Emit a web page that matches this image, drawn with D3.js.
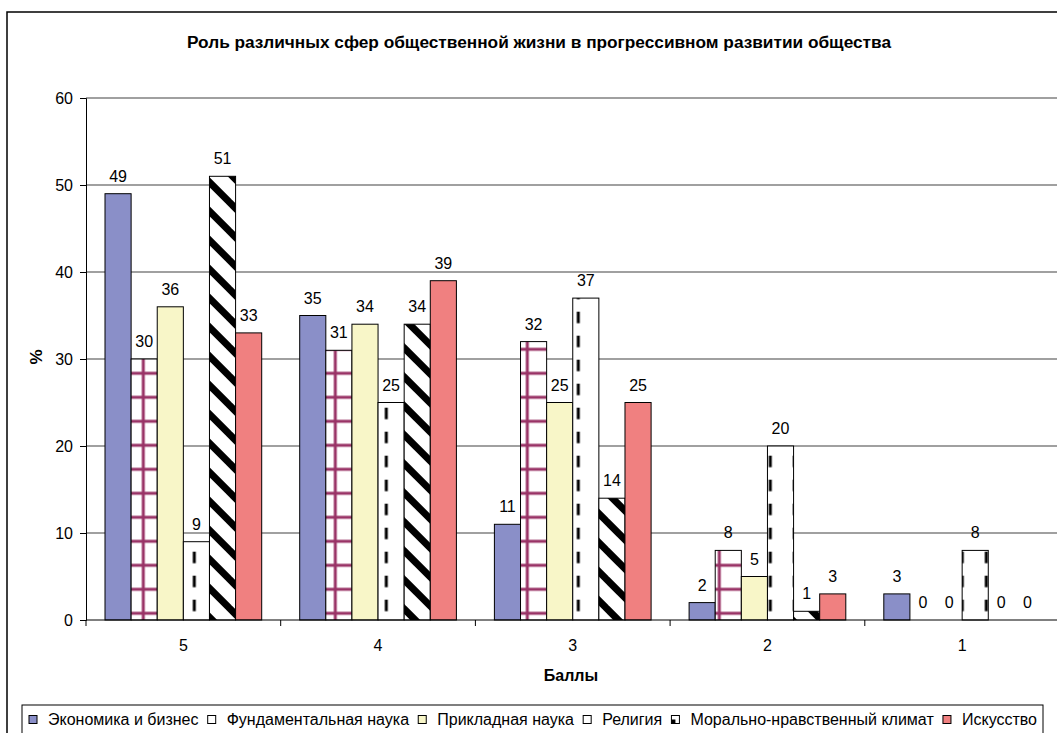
<!DOCTYPE html>
<html>
<head>
<meta charset="utf-8">
<script src="https://cdn.jsdelivr.net/npm/d3@7"></script>
<style>
  html, body { margin: 0; padding: 0; background: #fff; }
  svg { display: block; font-family: "Liberation Sans", Arial, sans-serif; }
</style>
</head>
<body>
<svg id="chart" width="1057" height="733"></svg>
<script>
// Survey: role of social spheres in progressive development (score 5..1), %
const categories = ["5", "4", "3", "2", "1"];
const seriesNames = [
  "Экономика и бизнес",
  "Фундаментальная наука",
  "Прикладная наука",
  "Религия",
  "Морально-нравственный климат",
  "Искусство"
];
const economy     = [49, 35, 11, 2, 3];
const fundamental = [30, 31, 32, 8, 0];
const applied     = [36, 34, 25, 5, 0];
const religion    = [9, 25, 37, 20, 8];
const morality    = [51, 34, 14, 1, 0];
const art         = [33, 39, 25, 3, 0];
const seriesValues = [economy, fundamental, applied, religion, morality, art];
const yTicks = [0, 10, 20, 30, 40, 50, 60];

const titleText = "Роль различных сфер общественной жизни в  прогрессивном развитии общества";
const xTitle = "Баллы";
const yTitle = "%";

const svg = d3.select("#chart");
const defs = svg.append("defs");

// plot geometry
const plotLeft = 86, plotRight = 1059.5, plotTop = 98, plotBottom = 620;
const fs = 16;

const x0 = d3.scaleBand().domain(categories).range([plotLeft, plotRight]).paddingInner(0).paddingOuter(0);
const x1 = d3.scaleBand().domain(d3.range(seriesNames.length)).range([19, x0.bandwidth() - 19]).padding(0);
const y = d3.scaleLinear().domain([0, 60]).range([plotBottom, plotTop]);

// ---- fill patterns (aligned to page coordinates) ----
const plum = "#993366";
const grid = defs.append("pattern").attr("id", "pGrid").attr("patternUnits", "userSpaceOnUse")
  .attr("x", -12.7).attr("y", 1.3).attr("width", 24).attr("height", 24);
grid.append("rect").attr("width", 24).attr("height", 24).attr("fill", "#fff");
grid.append("rect").attr("x", 10.5).attr("y", 0).attr("width", 3).attr("height", 24).attr("fill", plum);
grid.append("rect").attr("x", 0).attr("y", 10.5).attr("width", 24).attr("height", 3).attr("fill", plum);

const dash = defs.append("pattern").attr("id", "pDash").attr("patternUnits", "userSpaceOnUse")
  .attr("x", -9.7).attr("y", -0.3).attr("width", 24).attr("height", 24);
dash.append("rect").attr("width", 24).attr("height", 24).attr("fill", "#fff");
dash.append("rect").attr("x", 10.5).attr("y", 0).attr("width", 3).attr("height", 11.5).attr("fill", "#000");

const P = 29;
const diag = defs.append("pattern").attr("id", "pDiag").attr("patternUnits", "userSpaceOnUse")
  .attr("x", 0).attr("y", 0).attr("width", P).attr("height", P);
diag.append("rect").attr("width", P).attr("height", P).attr("fill", "#fff");
[-P, 0, P].forEach(c => {
  diag.append("line")
    .attr("x1", -10).attr("y1", -10 + c + 1.7)
    .attr("x2", P + 10).attr("y2", P + 10 + c + 1.7)
    .attr("stroke", "#000").attr("stroke-width", 7);
});

const fills = ["#8a8fc8", "url(#pGrid)", "#f8f6c8", "url(#pDash)", "url(#pDiag)", "#f08080"];
const swatchFills = ["#8a8fc8", "#fff", "#f8f6c8", "#fff", "#fff", "#f08080"];

// ---- outer frame ----
svg.append("rect").attr("x", 7).attr("y", 12).attr("width", 1200).attr("height", 900)
  .attr("fill", "none").attr("stroke", "#000").attr("stroke-width", 1.5);

// ---- title ----
svg.append("text").attr("x", 539).attr("y", 48).attr("text-anchor", "middle")
  .attr("font-size", 16).attr("font-weight", "bold")
  .attr("textLength", 704).attr("lengthAdjust", "spacingAndGlyphs")
  .text(titleText);

// ---- gridlines ----
svg.append("g").selectAll("line").data(yTicks.filter(d => d > 0)).join("line")
  .attr("x1", plotLeft).attr("x2", 1057)
  .attr("y1", d => y(d)).attr("y2", d => y(d))
  .attr("stroke", "#808080").attr("stroke-width", 1.6);

// ---- y axis ----
const yAxis = svg.append("g").attr("transform", `translate(${plotLeft},0)`)
  .call(d3.axisLeft(y).tickValues(yTicks).tickSize(6).tickPadding(7).tickFormat(d3.format("d")));
yAxis.select(".domain").attr("stroke", "#000").attr("stroke-width", 1);
yAxis.selectAll(".tick line").attr("stroke", "#000");
yAxis.selectAll("text").attr("font-size", fs).attr("fill", "#000")
  .attr("font-family", "Liberation Sans, Arial, sans-serif");

// ---- bars (page coordinates so patterns line up across bars) ----
const bars = svg.append("g");
categories.forEach((cat, ci) => {
  seriesValues.forEach((vals, si) => {
    const v = vals[ci];
    if (v > 0) {
      bars.append("rect")
        .attr("x", x0(cat) + x1(si)).attr("y", y(v))
        .attr("width", x1.bandwidth()).attr("height", y(0) - y(v))
        .attr("fill", fills[si]).attr("stroke", "#000").attr("stroke-width", 1);
    }
  });
});

// ---- x axis ----
const xAxis = svg.append("g").attr("transform", `translate(0,${plotBottom})`);
xAxis.append("line").attr("x1", plotLeft).attr("x2", 1057).attr("y1", 0).attr("y2", 0)
  .attr("stroke", "#000").attr("stroke-width", 1);
xAxis.selectAll("line.tk").data(d3.range(categories.length + 1)).join("line").attr("class", "tk")
  .attr("x1", i => plotLeft + i * x0.step()).attr("x2", i => plotLeft + i * x0.step())
  .attr("y1", 0).attr("y2", 6).attr("stroke", "#000");
xAxis.selectAll("text").data(categories).join("text")
  .attr("x", d => x0(d) + x0.bandwidth() / 2).attr("y", 31)
  .attr("text-anchor", "middle").attr("font-size", fs).text(d => d);

// ---- value labels ----
const labels = svg.append("g");
categories.forEach((cat, ci) => {
  seriesValues.forEach((vals, si) => {
    const v = vals[ci];
    labels.append("text")
      .attr("x", x0(cat) + x1(si) + x1.bandwidth() / 2)
      .attr("y", y(v) - 12)
      .attr("text-anchor", "middle").attr("font-size", fs)
      .text(v);
  });
});

// ---- axis titles ----
svg.append("text").attr("x", 571).attr("y", 681).attr("text-anchor", "middle")
  .attr("font-size", fs).attr("font-weight", "bold").text(xTitle);
svg.append("text").attr("transform", "translate(42,357) rotate(-90)").attr("text-anchor", "middle")
  .attr("font-size", 17).attr("font-weight", "bold").text(yTitle);

// ---- legend ----
svg.append("rect").attr("x", 22).attr("y", 705).attr("width", 1021).attr("height", 60)
  .attr("fill", "#fff").attr("stroke", "#000").attr("stroke-width", 1);
const leg = svg.append("g");
const texts = seriesNames.map(n => leg.append("text").attr("font-size", fs).attr("y", 725).text(n));
const widths = texts.map(t => t.node().getComputedTextLength());
const sw = 8, swGap = 11;
const startX = 29, endX = 1037;
const total = d3.sum(widths) + seriesNames.length * (sw + swGap);
const itemGap = (endX - startX - total) / (seriesNames.length - 1);
let cx = startX;
seriesNames.forEach((n, i) => {
  leg.append("rect").attr("x", cx).attr("y", 715.5).attr("width", sw).attr("height", sw)
    .attr("fill", swatchFills[i]).attr("stroke", "#000").attr("stroke-width", 1);
  if (i === 4) {
    leg.append("rect").attr("x", cx).attr("y", 719.5).attr("width", 4).attr("height", 4).attr("fill", "#000");
  }
  texts[i].attr("x", cx + sw + swGap);
  cx += sw + swGap + widths[i] + itemGap;
});
</script>
</body>
</html>
